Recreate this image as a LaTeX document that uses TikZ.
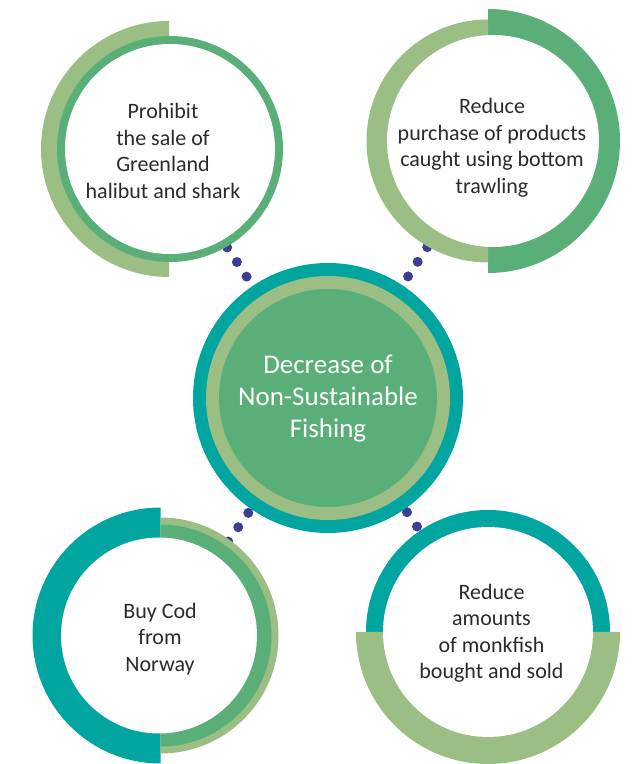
\documentclass[tikz,border=0pt]{standalone}
\usepackage{fontspec}
\setmainfont{Carlito}
\definecolor{ringteal}{HTML}{00A5A0}
\definecolor{mgreen}{HTML}{5AAE78}
\definecolor{lgreen}{HTML}{9BBE85}
\definecolor{dotblue}{HTML}{3D3D96}
\definecolor{txtgray}{HTML}{2B2B2B}
\pgfdeclarelayer{dotlayer}
\pgfdeclarelayer{ringlayer}
\pgfsetlayers{dotlayer,ringlayer,main}
\tikzset{
  lbl/.style={font=\fontsize{22}{26.5}\selectfont, text=txtgray, align=center, inner sep=0pt},
  hublbl/.style={font=\fontsize{27}{32}\selectfont, text=white, align=center, inner sep=0pt},
  dotline/.style={draw=dotblue, line width=10pt, line cap=round, dash pattern=on 0pt off 17.5pt},
}
\begin{document}
\begin{tikzpicture}[x=1pt,y=1pt]
\useasboundingbox (0,0) rectangle (637,764);

% labels (nodes)
\node[hublbl] (hub) at (328,365) {Decrease of\\Non-Sustainable\\Fishing};
\node[lbl] (tl) at (163,613) {Prohibit\\the sale of\\Greenland\\halibut and shark};
\node[lbl] (tr) at (492,616) {Reduce\\purchase of products\\caught using bottom\\trawling};
\node[lbl] (bl) at (160,125) {Buy Cod\\from\\Norway};
\node[lbl] (br) at (491.5,130.7) {Reduce\\amounts\\of monkfish\\bought and sold};

% rings
\begin{pgfonlayer}{ringlayer}
  % hub
  \fill[ringteal] (328,366) circle (135);
  \fill[lgreen] (328,366) circle (122);
  \fill[mgreen] (328,366) circle (109);
  % top left
  \fill[lgreen] (169,743) arc (90:270:128) -- cycle;
  \fill[mgreen] (170,615) circle (113);
  \fill[white] (170,615) circle (105);
  % top right
  \fill[mgreen] (488,755) arc (90:-90:132) -- cycle;
  \fill[lgreen] (488,744.5) arc (90:270:121.5) -- cycle;
  \fill[white] (493,623) circle (106);
  % bottom left
  \fill[ringteal] (160.5,256.5) arc (90:270:128) -- cycle;
  \fill[lgreen] (160.5,246.5) arc (90:-90:118) -- cycle;
  \fill[mgreen] (160.5,239.5) arc (90:-90:111) -- cycle;
  \fill[white] (159,128.5) circle (98);
  % bottom right
  \fill[ringteal] (610,132) arc (0:180:122) -- cycle;
  \fill[lgreen] (356,132) arc (180:360:132) -- cycle;
  \fill[white] (488,132) circle (105);
\end{pgfonlayer}

% dotted connectors
\begin{pgfonlayer}{dotlayer}
  \draw[dotline, dash phase=10.5pt] (hub.center) -- (tl.center);
  \draw[dotline, dash phase=11.1pt] (hub.center) -- (tr.center);
  \draw[dotline, dash phase=1pt] (hub.center) -- (bl.center);
  \draw[dotline, dash phase=2pt] (hub.center) -- (br.center);
\end{pgfonlayer}
\end{tikzpicture}
\end{document}
